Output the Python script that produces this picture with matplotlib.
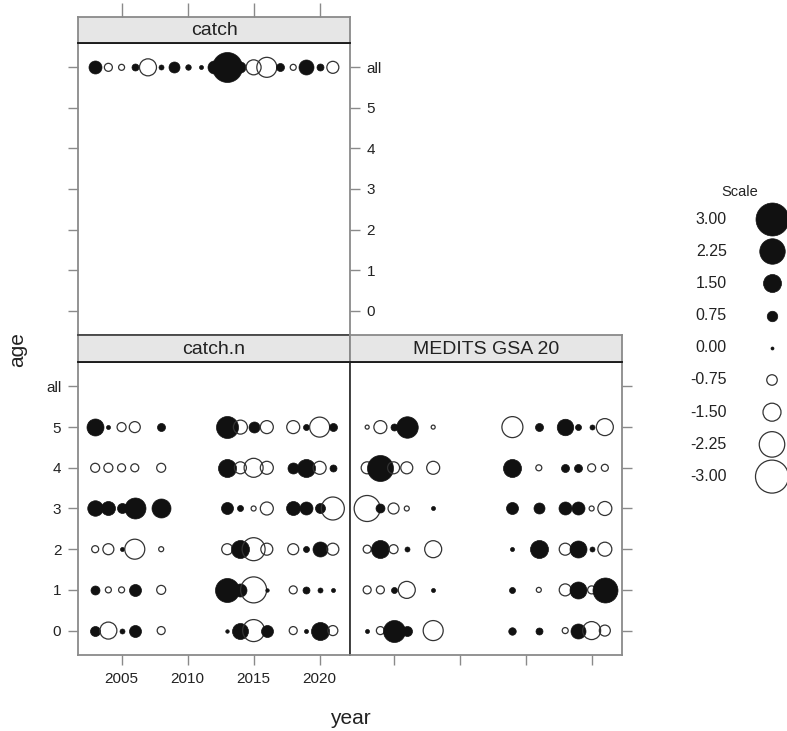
import numpy as np
import matplotlib
matplotlib.use('Agg')
import matplotlib.pyplot as plt

plt.rcParams['font.family'] = ['Liberation Sans', 'DejaVu Sans']

# ===== DATA (residuals) =====
age_labels = ['0', '1', '2', '3', '4', '5', 'all']

catch_years = [2003, 2004, 2005, 2006, 2007, 2008, 2009, 2010, 2011, 2012,
               2013, 2014, 2015, 2016, 2017, 2018, 2019, 2020, 2021]
catch_all = [1.0, -0.5, -0.3, 0.4, -1.4, 0.2, 0.8, 0.25, 0.1, 1.0,
             2.7, 0.8, -1.2, -1.7, 0.5, -0.3, 1.2, 0.4, -0.9]

cn_years = [2003, 2004, 2005, 2006, 2008, 2013, 2014, 2015, 2016, 2018, 2019, 2020, 2021]
cn_age0 = [0.7, -1.4, 0.2, 0.9, -0.5, 0.05, 1.3, -1.9, 0.9, -0.5, 0.1, 1.5, -0.7]
cn_age1 = [0.6, -0.3, -0.3, 0.9, -0.6, 2.1, 1.0, -2.3, 0.05, -0.5, 0.4, 0.2, 0.1]
cn_age2 = [-0.4, -0.8, 0.1, -1.7, -0.2, -0.8, 1.5, -2.0, -0.9, -0.8, 0.3, 1.2, -0.9]
cn_age3 = [1.25, 1.1, 0.7, 1.8, 1.6, 0.9, 0.3, -0.2, -1.0, 1.1, 1.0, 0.7, -2.0]
cn_age4 = [-0.6, -0.6, -0.5, -0.5, -0.6, 1.5, -0.9, -1.6, -1.0, 0.8, 1.5, -1.0, 0.4]
cn_age5 = [1.4, 0.1, -0.6, -0.8, 0.5, 1.9, -1.1, 0.8, -1.0, -1.0, 0.3, -1.7, 0.5]

md_years = [2003, 2004, 2005, 2006, 2008, 2014, 2016, 2018, 2019, 2020, 2021]
md_age0 = [0.1, -0.5, 1.9, 0.7, -1.7, 0.45, 0.4, -0.3, 1.2, -1.5, -0.8]
md_age1 = [-0.5, -0.5, 0.3, -1.4, 0.1, 0.3, -0.2, -0.9, 1.4, -0.5, 2.2]
md_age2 = [-0.5, 1.5, -0.6, 0.2, -1.4, 0.1, 1.5, -0.9, 1.4, 0.2, -1.1]
md_age3 = [-2.3, 0.6, -0.8, -0.2, 0.1, 0.9, 0.8, 1.0, 1.0, -0.2, -1.1]
md_age4 = [-0.9, 2.3, -0.9, -0.9, -1.0, 1.5, -0.3, 0.5, 0.5, -0.5, -0.4]
md_age5 = [-0.1, -1.0, 0.4, 1.85, -0.1, -1.8, 0.5, 1.35, 0.3, 0.2, -1.4]

scale_values = [3.00, 2.25, 1.50, 0.75, 0.00, -0.75, -1.50, -2.25, -3.00]
year_ticks = [2005, 2010, 2015, 2020]

# ===== LAYOUT =====
W, H = 787, 731
fig = plt.figure(figsize=(W / 100, H / 100), dpi=100)

def add_px(x0, y0, x1, y1):
    return fig.add_axes([x0 / W, 1 - y1 / H, (x1 - x0) / W, (y1 - y0) / H])

border = '#8a8a8a'
txt = '#222222'
xlim = (2001.7, 2022.3)
ylim = (-0.6, 6.6)

def bubble_size(v):
    d_px = 3 + 10 * abs(v)
    return (d_px * 0.72) ** 2

def bubbles(ax, years, vals, age):
    for yr, v in zip(years, vals):
        if v >= 0:
            ax.scatter(yr, age, s=bubble_size(v), facecolor='#111111', edgecolor='#111111',
                       linewidth=0.5, zorder=3, clip_on=False)
        else:
            ax.scatter(yr, age, s=bubble_size(v), facecolor='none', edgecolor='#333333',
                       linewidth=0.9, zorder=3, clip_on=False)

def panel(ax):
    ax.set_xlim(xlim)
    ax.set_ylim(ylim)
    for sp in ax.spines.values():
        sp.set_color(border)
        sp.set_linewidth(1.3)
    ax.set_yticks(range(7))
    ax.set_yticklabels(age_labels)
    ax.set_xticks(year_ticks)
    ax.tick_params(direction='out', length=7, width=1, color=border, labelsize=11,
                   labelcolor=txt, pad=5)

def strip(ax, label):
    ax.set_xlim(xlim)
    ax.set_facecolor('#e6e6e6')
    ax.set_yticks([])
    ax.set_xticks([])
    for sp in ax.spines.values():
        sp.set_color(border)
        sp.set_linewidth(1.3)
    ax.spines['bottom'].set_color('#111111')
    ax.text(0.5, 0.47, label, transform=ax.transAxes, ha='center', va='center',
            fontsize=14, color=txt)

# catch (top row)
ax_c = add_px(78, 43, 350, 335)
panel(ax_c)
bubbles(ax_c, catch_years, catch_all, 6)
ax_c.tick_params(axis='y', left=True, right=True, labelleft=False, labelright=True)
ax_c.tick_params(axis='x', bottom=False, labelbottom=False)
st_c = add_px(78, 17, 350, 43)
strip(st_c, 'catch')
st_c.set_xticks(year_ticks)
st_c.tick_params(axis='x', top=True, bottom=False, labeltop=False, labelbottom=False,
                 direction='out', length=10, width=1, color=border)

# catch.n
ax_n = add_px(78, 362, 350, 655)
panel(ax_n)
for age, vals in enumerate([cn_age0, cn_age1, cn_age2, cn_age3, cn_age4, cn_age5]):
    bubbles(ax_n, cn_years, vals, age)
ax_n.tick_params(axis='y', left=True, right=False, labelleft=True)
ax_n.tick_params(axis='x', bottom=True, labelbottom=True)
st_n = add_px(78, 335, 350, 362)
strip(st_n, 'catch.n')
st_n.spines['top'].set_color('#444444')

# MEDITS GSA 20
ax_m = add_px(350, 362, 622, 655)
panel(ax_m)
for age, vals in enumerate([md_age0, md_age1, md_age2, md_age3, md_age4, md_age5]):
    bubbles(ax_m, md_years, vals, age)
ax_m.tick_params(axis='y', left=False, right=True, labelleft=False, labelright=False)
ax_m.tick_params(axis='x', bottom=True, labelbottom=False)
ax_m.spines['left'].set_color('#333333')
st_m = add_px(350, 335, 622, 362)
strip(st_m, 'MEDITS GSA 20')

fig.text(350 / W, 1 - 718 / H, 'year', ha='center', va='center', fontsize=15, color=txt)
fig.text(18 / W, 1 - 350 / H, 'age', ha='center', va='center', rotation=90,
         fontsize=15, color=txt)

# ===== LEGEND =====
ax_l = add_px(680, 180, 787, 500)
ax_l.set_xlim(680, 787)
ax_l.set_ylim(500, 180)
ax_l.axis('off')
ax_l.text(740, 192, 'Scale', ha='center', va='center', fontsize=10.5, color=txt)
for i, v in enumerate(scale_values):
    yk = 219 + 32.2 * i
    ax_l.text(727, yk, f'{v:.2f}', ha='right', va='center', fontsize=11.5, color=txt)
    if v >= 0:
        ax_l.scatter(772, yk, s=bubble_size(v), facecolor='#111111', edgecolor='#111111',
                     linewidth=0.5, clip_on=False)
    else:
        ax_l.scatter(772, yk, s=bubble_size(v), facecolor='none', edgecolor='#333333',
                     linewidth=0.9, clip_on=False)

plt.savefig('out.png', dpi=100)
